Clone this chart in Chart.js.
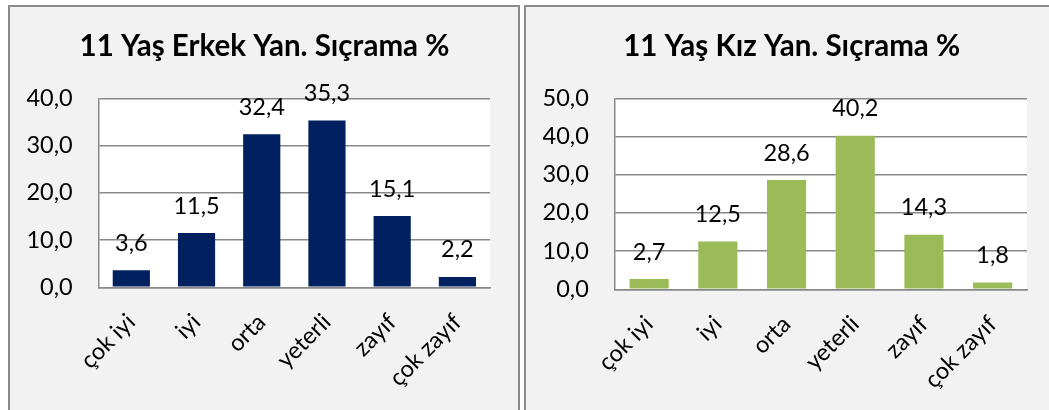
<!DOCTYPE html>
<html>
<head>
<meta charset="utf-8">
<script src="https://cdn.jsdelivr.net/npm/chart.js@4.4.0/dist/chart.umd.min.js"></script>
<style>
  body { margin: 0; background: #fff; width: 1049px; height: 410px; overflow: hidden; position: relative; }
  .panel { position: absolute; top: 5px; height: 420px; background: #f2f2f2; border: 2px solid #8a8a8a; box-sizing: border-box; }
  #p1 { left: 8px; width: 512px; }
  #p2 { left: 524px; width: 540px; }
  .panel canvas { position: absolute; left: 0; top: 0; }
</style>
</head>
<body>
<div class="panel" id="p1"><canvas id="erkek" width="508" height="403"></canvas></div>
<div class="panel" id="p2"><canvas id="kiz" width="534" height="403"></canvas></div>
<script>
var categories = ['çok iyi', 'iyi', 'orta', 'yeterli', 'zayıf', 'çok zayıf'];
var erkekValues = [3.6, 11.5, 32.4, 35.3, 15.1, 2.2];
var kizValues = [2.7, 12.5, 28.6, 40.2, 14.3, 1.8];
var erkekMax = 40;
var kizMax = 50;
var tickStep = 10;

function virgul(v) {
  return Number(v).toFixed(1).replace('.', ',');
}

// values above the bars + title centred on the panel
var barLabels = {
  id: 'barLabels',
  afterDatasetsDraw: function (chart, args, opts) {
    var ctx = chart.ctx;
    var meta = chart.getDatasetMeta(0);
    var data = chart.data.datasets[0].data;
    ctx.save();
    ctx.font = '23.5px Lato';
    ctx.fillStyle = '#000';
    ctx.textAlign = 'center';
    ctx.textBaseline = 'middle';
    meta.data.forEach(function (bar, i) {
      ctx.fillText(virgul(data[i]), bar.x, bar.y - 27);
    });
    ctx.font = 'bold 29.5px Lato';
    ctx.fillText(opts.text, opts.cx, 39);
    ctx.restore();
  }
};

function makeChart(id, title, values, max, color, titleX, padRight, yWidth, xHeight) {
  return new Chart(document.getElementById(id), {
    type: 'bar',
    data: {
      labels: categories,
      datasets: [{
        data: values,
        backgroundColor: color,
        borderWidth: 0,
        categoryPercentage: 1,
        barPercentage: 0.57
      }]
    },
    options: {
      responsive: false,
      animation: false,
      layout: { padding: { left: 0, right: padRight, top: 91.3, bottom: 0 } },
      plugins: {
        legend: { display: false },
        tooltip: { enabled: false },
        title: { display: false },
        barLabels: { text: title, cx: titleX }
      },
      scales: {
        x: {
          grid: { display: false, drawTicks: false },
          border: { color: '#888', width: 1.5 },
          ticks: {
            color: '#000',
            font: { family: 'Lato', size: 23.5 },
            minRotation: 45,
            maxRotation: 45,
            padding: 21,
            labelOffset: 0
          },
          afterFit: function (s) { s.height = xHeight; }
        },
        y: {
          min: 0,
          max: max,
          ticks: {
            stepSize: tickStep,
            color: '#000',
            font: { family: 'Lato', size: 23.5 },
            padding: 26,
            callback: function (v) { return virgul(v); }
          },
          grid: { color: '#888', lineWidth: 1.5, drawTicks: false },
          border: { color: '#888', width: 1.5 },
          afterFit: function (s) { s.width = yWidth; }
        }
      }
    },
    plugins: [barLabels, {
      id: 'plotBg',
      beforeDraw: function (chart) {
        var a = chart.chartArea;
        chart.ctx.save();
        chart.ctx.fillStyle = '#fff';
        chart.ctx.fillRect(a.left, a.top, a.right - a.left, a.bottom - a.top);
        chart.ctx.restore();
      }
    }]
  });
}

makeChart('erkek', '11 Yaş Erkek Yan. Sıçrama %', erkekValues, erkekMax, '#002060',
  254.5, 28, 88.7, 122.7);
makeChart('kiz', '11 Yaş Kız Yan. Sıçrama %', kizValues, kizMax, '#9bbb59',
  265.7, 33, 88.8, 120.7);
</script>
</body>
</html>
